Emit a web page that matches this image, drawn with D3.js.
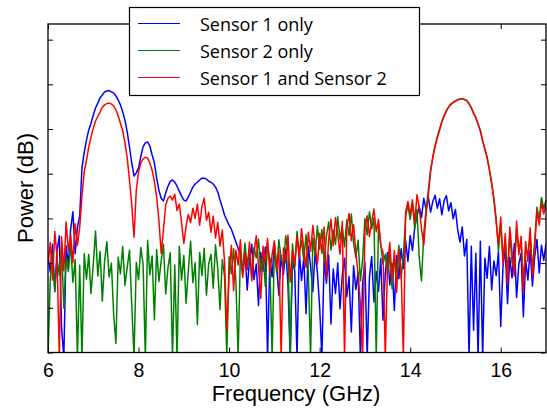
<!DOCTYPE html>
<html>
<head>
<meta charset="utf-8">
<script src="https://cdn.jsdelivr.net/npm/d3@7"></script>
<style>
  body { margin: 0; background: #fff; }
  svg { display: block; }
</style>
</head>
<body>
<div id="viz"></div>
<script>
// frequency grid of the sampled spectra (GHz)
var freqStart = 6, freqStep = 0.05;

// Power (dB), one value per 0.05 GHz from 6.00 to 17.00
var sensor1Only = [
  -58.5,-62.0,-55.8,-66.4,-57.2,-53.9,-74.5,-81.0,-56.1,-60.3, // 6.00
  -52.4,-48.5,-57.9,-52.0,-49.5,-38.7,-35.2,-32.5,-30.2,-28.7, // 6.50
  -26.9,-25.3,-24.2,-23.0,-22.4,-21.7,-21.5,-21.4,-21.7,-21.9, // 7.00
  -22.6,-23.5,-24.6,-26.2,-28.0,-30.7,-34.0,-37.6,-40.5,-39.8, // 7.50
  -38.7,-36.1,-34.0,-33.1,-32.9,-33.8,-35.8,-37.6,-41.0,-43.7, // 8.00
  -45.5,-46.1,-44.3,-42.8,-41.7,-41.4,-41.9,-42.8,-43.9,-45.0, // 8.50
  -45.9,-46.1,-45.2,-44.1,-43.0,-42.3,-41.9,-41.4,-41.0,-41.0, // 9.00
  -41.2,-41.7,-41.9,-42.3,-43.0,-44.1,-45.9,-47.5,-49.3,-50.4, // 9.50
  -51.5,-52.4,-53.8,-55.3,-56.7,-58.0,-62.5,-57.1,-66.0,-59.4, // 10.00
  -55.8,-63.7,-60.2,-69.5,-57.6,-61.8,-56.4,-81.0,-58.9,-63.1, // 10.50
  -55.7,-60.8,-67.2,-58.3,-62.6,-56.9,-64.8,-81.0,-59.5,-61.7, // 11.00
  -81.0,-57.4,-63.9,-58.8,-71.3,-56.2,-60.7,-66.4,-57.5,-62.0, // 11.50
  -69.8,-81.0,-59.1,-64.5,-58.2,-73.6,-61.3,-66.8,-60.0,-70.2, // 12.00
  -62.7,-58.9,-67.5,-63.0,-75.4,-60.6,-65.9,-62.1,-81.0,-64.4, // 12.50
  -59.8,-81.0,-63.2,-58.5,-68.7,-61.9,-66.3,-59.0,-72.8,-62.4, // 13.00
  -57.6,-64.9,-60.1,-70.6,-58.3,-63.5,-56.8,-61.2,-55.0,-59.6, // 13.50
  -53.8,-57.2,-52.0,-49.6,-47.3,-49.8,-45.5,-47.9,-45.1,-48.6, // 14.00
  -46.2,-44.8,-47.7,-45.6,-49.2,-46.0,-44.9,-48.3,-46.5,-50.1, // 14.50
  -48.0,-52.6,-55.3,-51.9,-58.4,-54.7,-81.0,-56.2,-75.0,-57.8, // 15.00
  -81.0,-55.1,-81.0,-58.9,-63.4,-56.3,-66.0,-59.5,-62.8,-57.4, // 15.50
  -74.2,-60.6,-56.9,-69.1,-58.7,-63.3,-55.6,-67.7,-60.2,-57.8, // 16.00
  -72.0,-59.3,-63.8,-57.0,-65.1,-58.6,-54.7,-62.2,-56.0,-59.4, // 16.50
  -55.6                                                         // 17.00
];

var sensor2Only = [
  -81.0,-63.5,-57.8,-66.2,-59.0,-62.7,-56.4,-70.1,-58.8,-61.9, // 6.00
  -55.6,-64.3,-59.2,-81.0,-60.5,-81.0,-57.9,-63.6,-58.1,-66.8, // 6.50
  -60.3,-52.8,-62.9,-57.4,-68.5,-59.6,-55.2,-63.1,-60.0,-71.4, // 7.00
  -78.0,-58.7,-62.4,-56.3,-65.0,-60.9,-57.1,-69.3,-81.0,-59.8, // 7.50
  -63.7,-56.5,-60.2,-81.0,-54.9,-62.6,-58.4,-72.7,-57.0,-64.1, // 8.00
  -59.5,-55.8,-66.9,-61.0,-57.7,-81.0,-60.4,-81.0,-56.2,-63.8, // 8.50
  -58.3,-69.0,-61.7,-55.1,-64.4,-59.9,-73.8,-57.6,-62.8,-56.7, // 9.00
  -67.2,-60.1,-58.0,-65.6,-55.9,-61.3,-70.4,-59.2,-63.0,-81.0, // 9.50
  -58.6,-62.4,-56.8,-64.0,-81.0,-57.4,-61.8,-55.5,-60.7,-56.9, // 10.00
  -63.3,-56.5,-58.8,-54.6,-61.9,-57.8,-65.2,-55.9,-59.6,-81.0, // 10.50
  -56.3,-62.1,-54.8,-58.9,-60.7,-53.9,-57.5,-81.0,-55.7,-61.2, // 11.00
  -52.9,-57.7,-55.0,-59.4,-53.6,-62.0,-81.0,-54.4,-58.3,-51.7, // 11.50
  -56.9,-52.5,-59.7,-54.0,-50.8,-57.1,-52.6,-55.8,-49.6,-54.7, // 12.00
  -51.9,-56.4,-50.3,-53.8,-49.0,-55.6,-58.7,-54.9,-64.0,-59.1, // 12.50
  -50.0,-53.7,-48.5,-52.3,-49.8,-81.0,-51.5,-55.6,-60.2,-58.0, // 13.00
  -62.4,-57.9,-65.7,-59.1,-61.8,-56.0,-63.5,-58.2,-49.5,-47.1, // 13.50
  -50.2,-46.7,-52.3,-48.0,-58.8,-64.0,-53.5,-48.0,-43.9,-39.2, // 14.00
  -36.2,-33.6,-31.8,-30.0,-28.3,-27.0,-25.9,-25.0,-24.4,-24.0, // 14.50
  -23.8,-23.4,-23.3,-23.2,-23.4,-23.6,-24.3,-25.2,-26.4,-27.4, // 15.00
  -28.8,-30.3,-32.5,-34.3,-36.3,-39.0,-42.0,-45.5,-50.2,-57.2, // 15.50
  -51.3,-58.6,-55.0,-62.3,-53.2,-59.8,-61.5,-52.4,-56.9,-55.3, // 16.00
  -64.5,-56.8,-58.0,-53.7,-61.6,-55.1,-47.5,-50.4,-45.3,-47.8, // 16.50
  -45.9                                                         // 17.00
];

var sensor1And2 = [
  -60.2,-55.4,-63.8,-52.9,-58.6,-81.0,-54.1,-61.7,-50.8,-57.3, // 6.00
  -53.5,-59.9,-51.2,-56.0,-52.0,-45.0,-39.6,-37.0,-34.0,-31.8, // 6.50
  -29.8,-28.2,-27.2,-26.2,-25.1,-24.6,-24.3,-24.2,-24.4,-24.8, // 7.00
  -25.7,-27.1,-28.7,-30.4,-33.1,-36.5,-41.4,-47.0,-54.2,-43.7, // 7.50
  -39.6,-37.6,-36.7,-36.3,-36.5,-37.6,-39.2,-41.7,-45.2,-50.4, // 8.00
  -57.8,-52.6,-47.0,-45.5,-45.0,-45.9,-44.6,-48.2,-46.8,-50.9, // 8.50
  -55.6,-51.7,-49.1,-50.9,-47.7,-50.0,-46.8,-51.5,-47.3,-45.5, // 9.00
  -50.4,-48.6,-53.1,-49.5,-54.4,-50.9,-56.2,-52.6,-59.8,-75.0, // 9.50
  -62.7,-56.0,-66.1,-57.1,-60.4,-54.8,-63.2,-57.9,-61.5,-55.3, // 10.00
  -64.0,-57.6,-53.9,-60.8,-67.9,-56.2,-59.7,-54.5,-62.3,-58.1, // 10.50
  -55.0,-61.4,-57.3,-81.0,-56.6,-59.8,-53.7,-64.2,-57.1,-60.5, // 11.00
  -54.2,-58.9,-52.3,-56.8,-61.0,-53.1,-57.4,-51.6,-55.9,-60.3, // 11.50
  -53.3,-57.8,-51.9,-63.4,-54.6,-50.2,-56.1,-49.8,-53.5,-58.0, // 12.00
  -50.7,-81.0,-52.2,-48.9,-55.0,-51.4,-57.8,-62.5,-69.0,-81.0, // 12.50
  -52.8,-49.4,-54.1,-50.6,-47.9,-53.0,-50.2,-56.3,-57.5,-81.0, // 13.00
  -60.1,-55.4,-63.8,-57.2,-66.5,-56.9,-61.4,-81.0,-48.6,-46.2, // 13.50
  -49.3,-45.8,-51.0,-44.7,-47.6,-52.4,-56.0,-49.3,-44.8,-39.6, // 14.00
  -36.5,-33.9,-32.0,-30.2,-28.4,-27.1,-26.0,-25.1,-24.5,-24.1, // 14.50
  -23.7,-23.5,-23.3,-23.3,-23.4,-23.7,-24.4,-25.3,-26.5,-27.5, // 15.00
  -28.9,-30.5,-32.7,-34.5,-36.5,-39.2,-42.3,-45.9,-50.9,-55.8, // 15.50
  -49.7,-60.2,-53.4,-64.8,-51.9,-57.5,-62.9,-50.6,-58.1,-54.0, // 16.00
  -66.3,-55.2,-59.6,-52.1,-63.0,-56.7,-48.2,-51.5,-46.4,-49.0, // 16.50
  -46.8                                                         // 17.00
];

var seriesNames = ["Sensor 1 only", "Sensor 2 only", "Sensor 1 and Sensor 2"];
var xTicks = [6, 8, 10, 12, 14, 16];
var yTicks = [-80, -70, -60, -50, -40, -30, -20, -10];

var w = 547, h = 410;
var plot = {left: 48, right: 546, top: 24, bottom: 352.5};
var colors = ["#0000ff", "#008000", "#ff0000"];

var x = d3.scaleLinear().domain([6, 17]).range([plot.left, plot.right]);
var y = d3.scaleLinear().domain([-80, -6.5]).range([plot.bottom, plot.top]);

var svg = d3.select("#viz").append("svg")
  .attr("width", w)
  .attr("height", h);

svg.append("clipPath").attr("id", "clip")
  .append("rect")
  .attr("x", plot.left).attr("y", plot.top)
  .attr("width", plot.right - plot.left)
  .attr("height", plot.bottom - plot.top);

var line = d3.line()
  .x(function(d, i) { return x(freqStart + i * freqStep); })
  .y(function(d) { return y(d); });

// blue below, then green, red on top
var series = [sensor1Only, sensor2Only, sensor1And2];
svg.append("g").attr("clip-path", "url(#clip)")
  .selectAll("path")
  .data(series)
  .enter().append("path")
  .attr("d", line)
  .attr("fill", "none")
  .attr("stroke", function(d, i) { return colors[i]; })
  .attr("stroke-width", 1.5)
  .attr("stroke-linejoin", "round");

// axes, matlab style: inward ticks on every side
var tickFont = "'Liberation Sans', Arial, sans-serif";

function styleAxis(g) {
  g.select(".domain").remove();
  g.selectAll(".tick line").attr("stroke", "#000").attr("stroke-width", 1);
  g.selectAll("text").attr("fill", "#000")
    .style("font-family", tickFont).style("font-size", "19.5px");
}

svg.append("g")
  .attr("transform", "translate(0," + plot.bottom + ")")
  .call(d3.axisBottom(x).tickValues(xTicks).tickSizeInner(-5).tickSizeOuter(0).tickPadding(11))
  .call(styleAxis);

svg.append("g")
  .attr("transform", "translate(0," + plot.top + ")")
  .call(d3.axisTop(x).tickValues(xTicks).tickSizeInner(-5).tickSizeOuter(0).tickFormat(""))
  .call(styleAxis);

svg.append("g")
  .attr("transform", "translate(" + plot.left + ",0)")
  .call(d3.axisLeft(y).tickValues(yTicks).tickSizeInner(-5).tickSizeOuter(0).tickFormat(""))
  .call(styleAxis);

svg.append("g")
  .attr("transform", "translate(" + plot.right + ",0)")
  .call(d3.axisRight(y).tickValues(yTicks).tickSizeInner(-5).tickSizeOuter(0).tickFormat(""))
  .call(styleAxis);

svg.append("rect")
  .attr("x", plot.left).attr("y", plot.top)
  .attr("width", plot.right - plot.left)
  .attr("height", plot.bottom - plot.top)
  .attr("fill", "none")
  .attr("stroke", "#000")
  .attr("stroke-width", 1.3);

svg.append("text")
  .attr("x", 296).attr("y", 401)
  .attr("text-anchor", "middle")
  .style("font-family", tickFont).style("font-size", "22px")
  .text("Frequency (GHz)");

svg.append("text")
  .attr("transform", "translate(33,188) rotate(-90)")
  .attr("text-anchor", "middle")
  .style("font-family", tickFont).style("font-size", "22px")
  .text("Power (dB)");

// legend
var legend = svg.append("g");
legend.append("rect")
  .attr("x", 129.5).attr("y", 7.5)
  .attr("width", 290).attr("height", 88)
  .attr("fill", "#fff")
  .attr("stroke", "#000")
  .attr("stroke-width", 1.2);

var rows = legend.selectAll("g.row")
  .data(seriesNames)
  .enter().append("g")
  .attr("class", "row")
  .attr("transform", function(d, i) { return "translate(0," + [23.5, 50.5, 77.5][i] + ")"; });

rows.append("line")
  .attr("x1", 138).attr("x2", 180)
  .attr("stroke", function(d, i) { return colors[i]; })
  .attr("stroke-width", 1.1);

rows.append("text")
  .attr("x", 200).attr("y", 7)
  .style("font-family", "'Open Sans', sans-serif")
  .style("font-size", "18px")
  .text(function(d) { return d; });
</script>
</body>
</html>
